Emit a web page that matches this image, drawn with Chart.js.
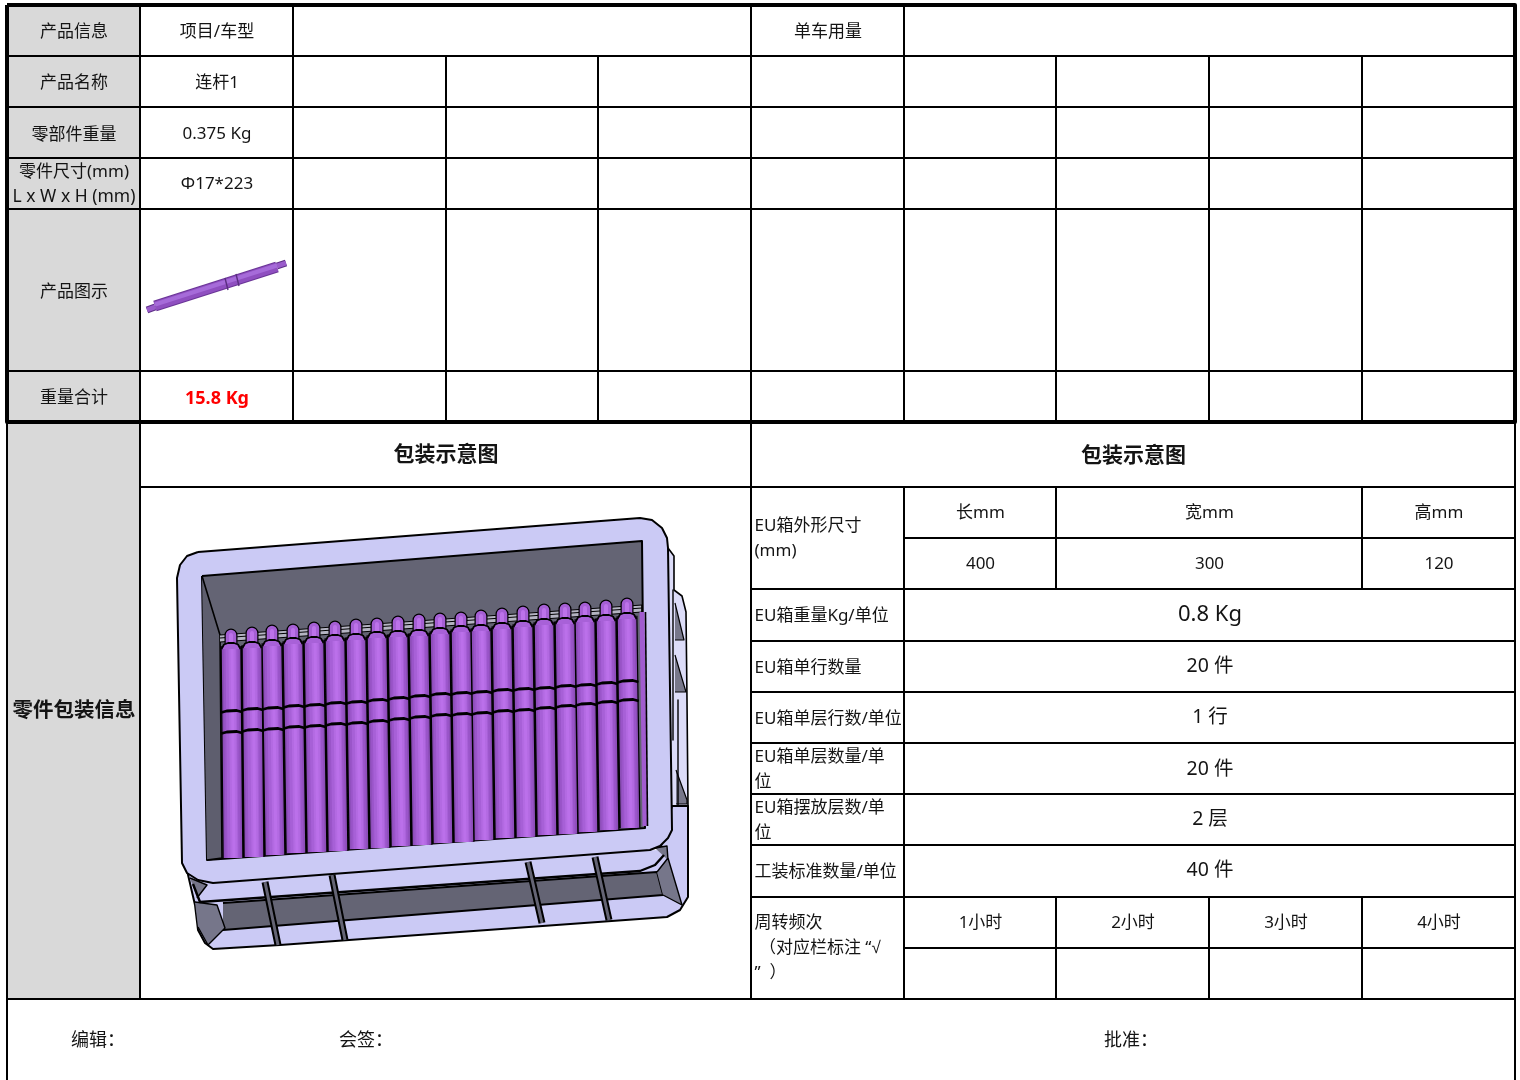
<!DOCTYPE html>
<html lang="zh-CN">
<head>
<meta charset="UTF-8">
<title>包装示意图</title>
<script src="https://cdn.jsdelivr.net/npm/chart.js"></script>
<style>
    html, body { margin: 0; padding: 0; background: #fff; }
    canvas { display: block; }
</style>
</head>
<body>
<canvas id="sheet" width="1520" height="1080"></canvas>
<script>
// table texts
const productHeads = ['产品信息', '产品名称', '零部件重量', '零件尺寸(mm)\nL x W x H (mm)', '产品图示', '重量合计'];
const productValues = ['项目/车型', '连杆1', '0.375 Kg', 'Φ17*223', '', '15.8 Kg'];
const usageHead = '单车用量';
const sideTitle = '零件包装信息';
const packTitles = ['包装示意图', '包装示意图'];
const boxLabels = ['EU箱外形尺寸\n(mm)', 'EU箱重量Kg/单位', 'EU箱单行数量', 'EU箱单层行数/单位', 'EU箱单层数量/单\n位', 'EU箱摆放层数/单\n位', '工装标准数量/单位', '周转频次\n （对应栏标注 “√\n”  ）'];
const boxValues = ['0.8 Kg', '20 件', '1 行', '20 件', '2 层', '40 件'];
const sizeHeads = ['长mm', '宽mm', '高mm'];
const sizeValues = ['400', '300', '120'];
const turnHeads = ['1小时', '2小时', '3小时', '4小时'];
const signoff = ['编辑：', '会签：', '批准：'];

// table grid, in sheet units
const colEdges = [7, 140, 293, 446, 598, 751, 904, 1056, 1209, 1362, 1515];
const rowEdges = [5, 56, 107, 158, 209, 371, 422, 487, 538, 589, 641, 692, 743, 794, 845, 897, 948, 999, 1080];

// the 20 rods in the box
const rodNeckX = [231, 252, 272, 293, 314, 335, 356, 377, 398, 419, 440, 461, 481, 502, 523, 544, 565, 585, 606, 627];
const rodBaseX = [233, 254, 275, 296, 317, 338, 359, 380, 401, 422, 443, 464, 484, 505, 526, 547, 568, 588, 609, 630];
const rodCapY = [630, 628, 626, 625, 623, 622, 620, 619, 617, 615, 614, 613, 611, 609, 607, 605, 604, 603, 601, 599];
const rodDomeY = [643, 642, 640, 638, 637, 635, 634, 632, 631, 630, 628, 626, 625, 623, 621, 619, 618, 616, 615, 613];
const rodBandA = [711, 709, 708, 706, 705, 703, 702, 700, 698, 696, 694, 693, 692, 690, 689, 688, 686, 685, 683, 681];
const rodBandB = [732, 730, 729, 727, 726, 724, 723, 721, 719, 717, 715, 714, 713, 711, 710, 708, 706, 704, 702, 700];
const rodBaseY = [858, 857, 855, 853, 852, 851, 849, 848, 846, 845, 843, 842, 840, 838, 837, 835, 834, 832, 830, 828];

// box outline pieces
const rimOuter = [[198,552],[640,518],[652,520],[662,528],[667,538],[668,548],[672,830],[668,838],[660,846],[650,850],[213,883],[198,880],[187,873],[182,863],[177,578],[180,565],[187,556]];
const cavity = [[202,576],[642,541],[645,828],[207,860]];
const cavityWall = [[202,576],[220,635],[222,858],[207,860]];
const backStrip = [[220,635],[642,605],[642,612],[220,642]];
const backLine = [[220,638],[642,608]];
const lowerBody = [[186,866],[195,905],[198,930],[205,943],[213,949],[280,945],[667,917],[680,910],[688,897],[688,806],[672,806],[660,850]];
const upperBandEdge = [[193,884],[200,902],[640,871],[655,865],[664,855]];
const darkBand = [[223,903],[657,872],[663,895],[223,930]];
const leftCorners = [[[190,878],[207,885],[197,898]], [[195,902],[217,905],[225,928],[208,945],[198,927]]];
const rightCorners = [[[657,872],[668,858],[682,905],[663,895]], [[655,848],[667,846],[668,860]]];
const ribs = [[[265,882],[278,945]], [[332,875],[345,940]], [[528,862],[542,923]], [[595,857],[609,920]]];
const sideBack = [[668,548],[674,556],[674,590],[682,596],[686,612],[687,700],[688,806],[672,806]];
const sideWedges = [[[675,603],[684,640],[675,640]], [[675,655],[686,692],[675,692]], [[676,770],[687,800],[687,804],[676,804]]];
const sideLines = [[[673,590],[673,740]], [[678,700],[678,806]]];

// small part in the product picture
const shaftBody = [[155,306],[277,267]];
const shaftEnds = [[[147,310],[155,307]], [[277,266],[286,263]]];
const shaftRings = [[[225,278],[228,290]], [[236,274],[239,286]]];

const FONT = "'Noto Sans', 'Liberation Sans', 'Noto Sans CJK SC', sans-serif";
const INK = '#000';
const LAVENDER = '#cbcaf5';
const SLATE = '#646474';

const datasets = [];
function joined(lists) {
    const pts = [];
    lists.forEach(l => {
        l.forEach(p => pts.push({ x: p[0], y: p[1] }));
        pts.push({ x: null, y: null });
    });
    return pts;
}
function add(lists, stroke, width, fillColor, cap) {
    datasets.push({
        data: joined(lists),
        showLine: true,
        pointRadius: 0,
        borderColor: stroke || 'transparent',
        borderWidth: width || 0,
        borderCapStyle: cap || 'butt',
        borderJoinStyle: 'round',
        backgroundColor: fillColor || 'transparent',
        fill: fillColor ? 'shape' : false,
        spanGaps: false,
        tension: 0,
        order: -datasets.length
    });
}
function box(c0, c1, r0, r1) {
    const x0 = colEdges[c0], x1 = colEdges[c1], y0 = rowEdges[r0], y1 = rowEdges[r1];
    return [[x0, y0], [x1, y0], [x1, y1], [x0, y1], [x0, y0]];
}

// gray head cells
add([box(0, 1, 0, 6), box(0, 1, 6, 17)], null, 0, '#d9d9d9');

// thin table lines
const thin = [];
for (let r = 0; r < 6; r++) {
    thin.push(box(0, 1, r, r + 1), box(1, 2, r, r + 1));
    if (r > 0) for (let c = 2; c < 10; c++) thin.push(box(c, c + 1, r, r + 1));
}
thin.push(box(2, 5, 0, 1), box(5, 6, 0, 1), box(6, 10, 0, 1));
thin.push(box(0, 1, 6, 17), box(1, 5, 6, 7), box(5, 10, 6, 7), box(1, 5, 7, 17));
thin.push(box(5, 6, 7, 9), box(6, 7, 7, 8), box(7, 9, 7, 8), box(9, 10, 7, 8), box(6, 7, 8, 9), box(7, 9, 8, 9), box(9, 10, 8, 9));
for (let r = 9; r < 15; r++) thin.push(box(5, 6, r, r + 1), box(6, 10, r, r + 1));
thin.push(box(5, 6, 15, 17));
for (let c = 6; c < 10; c++) thin.push(box(c, c + 1, 15, 16), box(c, c + 1, 16, 17));
thin.push([[colEdges[0], rowEdges[17]], [colEdges[0], rowEdges[18]]], [[colEdges[10], rowEdges[17]], [colEdges[10], rowEdges[18]]]);
add(thin, INK, 2);

// heavy frame round the product block
add([[[colEdges[0], rowEdges[0]], [colEdges[10], rowEdges[0]], [colEdges[10], rowEdges[6]], [colEdges[0], rowEdges[6]], [colEdges[0], rowEdges[0]]]], INK, 4);

// product picture
add(shaftEnds, '#5d2f86', 7);
add(shaftEnds, '#9a5ccb', 5);
add([shaftBody], '#6a3596', 11);
add([shaftBody], '#8f4fc0', 9);
add([shaftBody.map(p => [p[0], p[1] - 1.5])], '#a66bd9', 4);
add(shaftRings, '#5a2d80', 1.4);

// box: lower structure first, rim and contents on top
add([sideBack], INK, 1.6, '#dcdcf8');
add(sideWedges, INK, 1.2, '#77778a');
add(sideLines, INK, 1.4);
add([lowerBody], INK, 2, LAVENDER);
add([darkBand], INK, 1.8, SLATE);
add(leftCorners, INK, 1.4, '#76768a');
add(rightCorners, INK, 1.4, '#76768a');
add([upperBandEdge], INK, 2.4);
add(ribs, INK, 7);
add(ribs, SLATE, 3);
add([rimOuter.concat([rimOuter[0]])], INK, 2, LAVENDER);
add([cavity.concat([cavity[0]])], INK, 2, SLATE);
add([cavityWall], INK, 1.6, '#5e5e6e');
add([backStrip], INK, 1, '#b4b4c2');
add([backLine], INK, 1);

const rodLines = rodNeckX.map((x, i) => [[x, rodDomeY[i] + 3], [rodBaseX[i], rodBaseY[i]]]);
const rodNecks = rodNeckX.map((x, i) => [[x, rodCapY[i] + 5], [x, rodDomeY[i] + 3]]);
const rodDomes = rodNeckX.map((x, i) => [[x - 9.5, rodDomeY[i] + 6], [x - 7, rodDomeY[i] + 1.5], [x - 3, rodDomeY[i]], [x + 3, rodDomeY[i]], [x + 7, rodDomeY[i] + 1.5], [x + 9.5, rodDomeY[i] + 6]]);
const rodLight = rodLines.map(l => l.map(p => [p[0] + 1, p[1]]));
const bandLine = (ys) => rodBaseX.map((x, i) => {
    const cx = rodNeckX[i] + (x - rodNeckX[i]) * (ys[i] - rodDomeY[i]) / (rodBaseY[i] - rodDomeY[i]);
    return [[cx - 10.5, ys[i] + 1.5], [cx - 5, ys[i]], [cx + 5, ys[i] - 0.5], [cx + 10.5, ys[i] + 1]];
});

add(rodNecks, INK, 13, null, 'round');
add(rodNecks, '#a55fd4', 10.5, null, 'round');
add(rodNecks, '#bd72ea', 4, null, 'round');
add(rodLines, INK, 21);
add(rodLines, '#8d4eb9', 18.5);
add(rodLines, '#9a55c9', 15);
add(rodLines, '#a760d7', 11);
add(rodLight, '#b36ae2', 7);
add(rodLight, '#bb70ea', 3);
add(rodDomes, INK, 1.8, '#a861d8');
add(bandLine(rodBandA), INK, 2.8);
add(bandLine(rodBandB), INK, 2.8);
// sliver of the next rod against the right wall
add([[[642, 612], [645, 826]]], '#a15ccf', 5);
add([[[645.5, 612], [647.5, 826]]], INK, 1.6);

// texts, placed with the scales in the plugin below
function centerOf(i, edges) { return (edges[i] + edges[i + 1]) / 2; }
const textPlugin = {
    id: 'sheetText',
    afterDatasetsDraw(chart) {
        const { ctx, scales: { x, y } } = chart;
        function put(str, px, py, size, opt) {
            opt = opt || {};
            ctx.save();
            ctx.font = (opt.bold ? 'bold ' : '') + size + 'px ' + FONT;
            ctx.fillStyle = opt.color || '#141414';
            ctx.textAlign = opt.align || 'center';
            ctx.textBaseline = 'middle';
            const lines = str.split('\n');
            lines.forEach((l, i) => {
                ctx.fillText(l, x.getPixelForValue(px), y.getPixelForValue(py + 1 + (i - (lines.length - 1) / 2) * 25));
            });
            ctx.restore();
        }
        const midHead = centerOf(0, colEdges) + 0.5;
        const midVal = centerOf(1, colEdges) + 0.5;
        productHeads.forEach((t, i) => {
            if (i === 3) {
                const parts = t.split('\n');
                put(parts[0], midHead, 171, 17);
                put(parts[1], midHead, 196, 17.5);
            } else {
                put(t, midHead, centerOf(i, rowEdges) + (i === 2 ? 1.5 : 1), 17);
            }
        });
        productValues.forEach((t, i) => {
            if (i === 5) put(t, midVal, centerOf(i, rowEdges) + 1, 18, { bold: true, color: '#ff0000' });
            else if (i === 3) put(t, midVal, centerOf(i, rowEdges), 17);
            else put(t, midVal, centerOf(i, rowEdges) + 0.5, 17);
        });
        put(usageHead, centerOf(5, colEdges) + 0.5, centerOf(0, rowEdges) + 1, 17);
        put(sideTitle, midHead, 710, 20.5, { bold: true });
        put(packTitles[0], (colEdges[1] + colEdges[5]) / 2 + 0.5, 454, 21, { bold: true });
        put(packTitles[1], (colEdges[5] + colEdges[10]) / 2 + 0.5, 455, 21, { bold: true });

        const labelRows = [[7, 9], [9, 10], [10, 11], [11, 12], [12, 13], [13, 14], [14, 15], [15, 17]];
        boxLabels.forEach((t, i) => {
            const yy = (rowEdges[labelRows[i][0]] + rowEdges[labelRows[i][1]]) / 2;
            const py = i === 0 ? 537.5 : (i === 7 ? yy - 1 : yy + 0.5);
            put(t, colEdges[5] + 3.5, py, 17, { align: 'left' });
        });
        const midRight = (colEdges[6] + colEdges[10]) / 2 + 0.5;
        boxValues.forEach((t, i) => put(t, midRight, centerOf(i + 9, rowEdges) - 1.5 + (i === 3 ? 1 : 0), i === 0 ? 22 : 19.5));
        const sizeCols = [centerOf(6, colEdges) + 0.5, (colEdges[7] + colEdges[9]) / 2 + 0.5, centerOf(9, colEdges) + 0.5];
        sizeHeads.forEach((t, i) => put(t, sizeCols[i], 512.5, 17));
        sizeValues.forEach((t, i) => put(t, sizeCols[i], 563.5, 17));
        turnHeads.forEach((t, i) => put(t, centerOf(6 + i, colEdges) + 0.5, 922.5, 17));
        put(signoff[0], 71, 1040, 18, { align: 'left' });
        put(signoff[1], 339, 1040, 18, { align: 'left' });
        put(signoff[2], 1104, 1040, 18, { align: 'left' });
    }
};

new Chart(document.getElementById('sheet'), {
    type: 'scatter',
    data: { datasets: datasets },
    plugins: [textPlugin],
    options: {
        responsive: false,
        animation: false,
        devicePixelRatio: 1,
        events: [],
        layout: { padding: 0 },
        clip: false,
        scales: {
            x: { type: 'linear', min: 0, max: 1520, display: false },
            y: { type: 'linear', min: 0, max: 1080, reverse: true, display: false }
        },
        plugins: { legend: { display: false }, tooltip: { enabled: false } }
    }
});
</script>
</body>
</html>
